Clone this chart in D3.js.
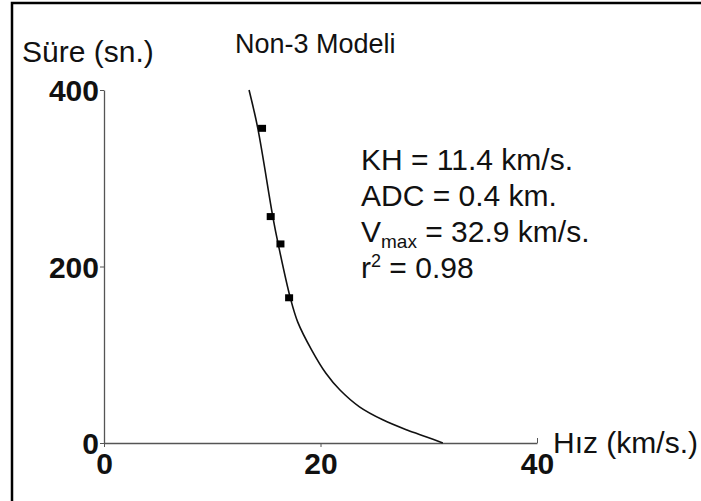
<!DOCTYPE html>
<html>
<head>
<meta charset="utf-8">
<script src="https://cdn.jsdelivr.net/npm/d3@7"></script>
<style>
  body { margin: 0; background: #fff; }
  text { font-family: "Liberation Sans", Arial, sans-serif; }
</style>
</head>
<body>
<svg width="701" height="501"></svg>
<script>
// measured points (hiz km/s, sure sn.)
const pointX = [14.6, 15.4, 16.3, 17.1];
const pointY = [356, 256, 225, 164];

// fitted curve
const curveX = [13.4, 14.2, 15.6, 16.1, 17.2, 17.9, 19.2, 20.5, 21.8, 23.6, 25.8, 28.0, 29.8, 31.3];
const curveY = [400, 357, 256, 225, 165, 137, 105, 79, 60, 41, 26, 14.7, 6.8, 0];

const xTicks = [0, 20, 40];
const yTicks = [0, 200, 400];
const statLines = ["KH = 11.4 km/s.", "ADC = 0.4 km.", "= 32.9 km/s.", "= 0.98"];

const svg = d3.select("svg");

// frame (cropped on right and bottom)
svg.append("rect")
    .attr("x", 12).attr("y", 3)
    .attr("width", 720).attr("height", 520)
    .attr("fill", "none")
    .attr("stroke", "#000")
    .attr("stroke-width", 2.5);

const x = d3.scaleLinear().domain([0, 40]).range([104, 537]);
const y = d3.scaleLinear().domain([0, 400]).range([443, 90]);

const xAxis = svg.append("g")
    .attr("transform", `translate(0,${y(0)})`)
    .call(d3.axisBottom(x).tickValues(xTicks).tickSize(4).tickSizeOuter(0).tickFormat(d3.format("d")));
const yAxis = svg.append("g")
    .attr("transform", `translate(${x(0)},0)`)
    .call(d3.axisLeft(y).tickValues(yTicks).tickSize(4).tickSizeOuter(0).tickFormat(d3.format("d")));

[xAxis, yAxis].forEach(g => {
    g.select(".domain").attr("stroke", "#555").attr("stroke-width", 1.3);
    g.selectAll(".tick line").attr("stroke", "#555");
    g.selectAll(".tick text")
        .attr("fill", "#111")
        .style("font-family", "'Liberation Sans', Arial, sans-serif")
        .style("font-size", "30px")
        .style("font-weight", "bold");
});
xAxis.selectAll(".tick text").attr("dy", "0.85em").attr("y", 5);
yAxis.selectAll(".tick text").attr("x", -5).attr("dy", "0.35em");
// outer tick at 40 points up
xAxis.selectAll(".tick").filter(d => d === 40).select("line").attr("y2", -5);

// curve
const line = d3.line()
    .x(d => x(d[0]))
    .y(d => y(d[1]))
    .curve(d3.curveCatmullRom.alpha(0.5));
svg.append("path")
    .datum(curveX.map((v, i) => [v, curveY[i]]))
    .attr("d", line)
    .attr("fill", "none")
    .attr("stroke", "#111")
    .attr("stroke-width", 1.6);

// points
svg.selectAll(".pt")
    .data(pointX.map((v, i) => [v, pointY[i]]))
    .enter()
    .append("rect")
    .attr("class", "pt")
    .attr("x", d => x(d[0]) - 4)
    .attr("y", d => y(d[1]) - 4)
    .attr("width", 8)
    .attr("height", 7)
    .attr("fill", "#000");

// labels
const label = (tx, ty, s, fs) => svg.append("text")
    .attr("x", tx).attr("y", ty)
    .attr("fill", "#111")
    .style("font-size", fs + "px")
    .text(s);

label(22, 62, "Süre (sn.)", 30);
label(235, 53, "Non-3 Modeli", 27);
label(553, 453, "Hız (km/s.)", 30);

// statistics block
const stats = svg.append("g").attr("transform", "translate(361,0)");
const baseY = [170, 206, 242, 278];
statLines.forEach((s, i) => {
    const t = stats.append("text")
        .attr("x", 0).attr("y", baseY[i])
        .attr("fill", "#111")
        .style("font-size", "30px");
    if (i === 2) {
        t.append("tspan").text("V");
        t.append("tspan").attr("dy", 6).style("font-size", "19px").text("max");
        t.append("tspan").attr("dy", -6).text(" " + s);
    } else if (i === 3) {
        t.append("tspan").text("r");
        t.append("tspan").attr("dy", -11).style("font-size", "18px").text("2");
        t.append("tspan").attr("dy", 11).text(" " + s);
    } else {
        t.text(s);
    }
});
</script>
</body>
</html>
